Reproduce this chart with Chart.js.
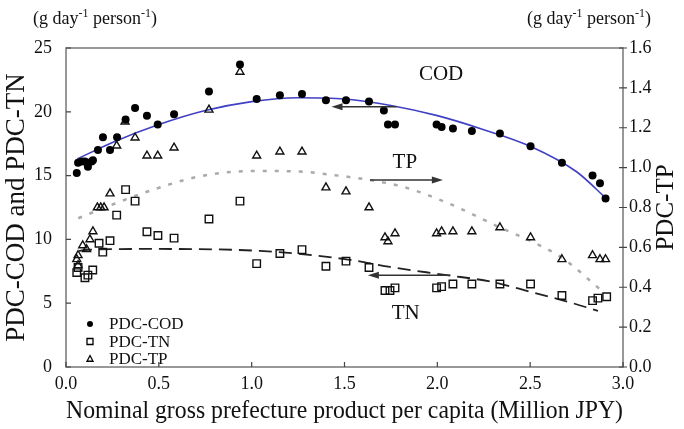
<!DOCTYPE html>
<html><head><meta charset="utf-8">
<script src="https://cdn.jsdelivr.net/npm/chart.js@4.4.1/dist/chart.umd.min.js"></script>
<style>html,body{margin:0;padding:0;background:#fff;}#wrap{width:684px;height:429px;}</style>
</head><body><div id="wrap"><canvas id="c" width="684" height="429"></canvas></div>
<script>
// ---- data ----
const codX = [0.058,0.065,0.085,0.102,0.118,0.138,0.145,0.172,0.199,0.237,0.275,0.321,0.372,0.436,0.494,0.582,0.77,0.937,1.027,1.152,1.271,1.40,1.508,1.632,1.712,1.734,1.772,1.996,2.023,2.084,2.186,2.337,2.502,2.671,2.836,2.876,2.906];
const codY = [15.2,16.0,16.1,16.1,15.7,16.1,16.2,17.0,18.0,17.0,18.0,19.4,20.3,19.7,19.0,19.8,21.6,23.7,21.0,21.3,21.4,20.9,20.9,20.8,20.1,19.0,19.0,19.0,18.8,18.7,18.5,18.3,17.3,16.0,15.0,14.4,13.2];
const tnX = [0.058,0.065,0.102,0.118,0.144,0.178,0.198,0.237,0.273,0.321,0.372,0.436,0.495,0.582,0.77,0.937,1.027,1.152,1.271,1.40,1.508,1.632,1.718,1.745,1.772,1.996,2.023,2.084,2.186,2.337,2.502,2.671,2.836,2.865,2.912];
const tnY = [7.4,7.8,7.0,7.2,7.6,9.7,9.0,9.9,11.9,13.9,13.0,10.6,10.3,10.1,11.6,13.0,8.1,8.9,9.2,7.9,8.3,7.8,6.0,6.0,6.2,6.2,6.3,6.5,6.5,6.5,6.5,5.6,5.2,5.4,5.5];
const tpX = [0.058,0.065,0.065,0.09,0.111,0.129,0.145,0.169,0.187,0.205,0.237,0.273,0.318,0.372,0.436,0.494,0.582,0.77,0.937,1.027,1.152,1.271,1.40,1.508,1.632,1.718,1.734,1.772,1.996,2.023,2.084,2.186,2.337,2.502,2.671,2.836,2.876,2.906];
const tpY = [0.54,0.51,0.56,0.61,0.59,0.64,0.68,0.80,0.80,0.80,0.87,1.11,1.23,1.15,1.06,1.06,1.10,1.29,1.48,1.06,1.08,1.08,0.90,0.88,0.80,0.65,0.63,0.67,0.67,0.68,0.68,0.68,0.70,0.65,0.54,0.56,0.54,0.54];
// fitted trend curves
const codFitX = [0.06,0.25,0.5,0.75,1.0,1.25,1.5,1.75,2.0,2.25,2.5,2.75,2.91];
const codFitY = [16.3,17.6,19.0,20.1,20.8,21.1,21.0,20.5,19.7,18.6,17.3,15.3,13.2];
const tpFitX = [0.066,0.264,0.44,0.71,1.0,1.26,1.44,1.62,1.815,2.057,2.337,2.508,2.676,2.891];
const tpFitY = [0.746,0.82,0.88,0.954,0.983,0.98,0.963,0.94,0.904,0.822,0.70,0.63,0.545,0.378];
const tnFitX = [0.07,0.102,0.45,1.045,1.53,1.745,2.05,2.283,2.5,2.73,2.865];
const tnFitY = [9.1,9.17,9.25,9.1,8.4,7.84,7.2,6.7,5.9,5.0,4.4];
// tick values
const xTicks = [0,0.5,1.0,1.5,2.0,2.5,3.0];
const leftTicks = [0,5,10,15,20,25];
const rightTicks = [0,0.2,0.4,0.6,0.8,1.0,1.2,1.4,1.6];
// annotations
const labelText = ['COD','TP','TN'];
const labelX = [2.02,1.825,1.83];
const labelY = [22.9,16.0,4.2];
const arrowFromX = [1.78,1.637,2.07];
const arrowToX = [1.43,2.03,1.626];
const arrowY = [20.4,14.65,7.2];
const legendNames = ['PDC-COD','PDC-TN','PDC-TP'];

const SERIF = "'Liberation Serif','Times New Roman',Times,serif";
const zip = (xs, ys) => xs.map((x, i) => ({x, y: ys[i]}));

function drawMarker(ctx, kind, x, y, s){
  ctx.beginPath();
  if (kind === 'circle'){ ctx.arc(x, y, s, 0, Math.PI*2); ctx.fillStyle='#000'; ctx.fill(); }
  else if (kind === 'rect'){ ctx.rect(x-s, y-s, 2*s, 2*s); ctx.stroke(); }
  else { ctx.moveTo(x, y-s*1.15); ctx.lineTo(x+s, y+s*0.75); ctx.lineTo(x-s, y+s*0.75); ctx.closePath(); ctx.stroke(); }
}
function drawUnits(ctx, x, y){
  const parts = [['(g day',0],['-1',1],[' person',0],['-1',1],[')',0]];
  let cx = x;
  ctx.fillStyle = '#111'; ctx.textAlign='left'; ctx.textBaseline='alphabetic';
  parts.forEach(([t,s]) => {
    ctx.font = (s ? '12px ' : '18px ') + SERIF;
    ctx.fillText(t, cx, s ? y-7 : y);
    cx += ctx.measureText(t).width;
  });
}

const deco = {
  id: 'deco',
  beforeDatasetsDraw(chart){
    const {ctx, chartArea: a, scales} = chart;
    ctx.save();
    ctx.strokeStyle = '#777'; ctx.lineWidth = 1.5;
    ctx.strokeRect(a.left, a.top, a.right-a.left, a.bottom-a.top);
    ctx.strokeStyle = '#444'; ctx.lineWidth = 1.2;
    ctx.beginPath();
    leftTicks.forEach(v => { const y = scales.y.getPixelForValue(v); ctx.moveTo(a.left, y); ctx.lineTo(a.left+5, y); });
    rightTicks.forEach(v => { const y = scales.y1.getPixelForValue(v); ctx.moveTo(a.right-4, y); ctx.lineTo(a.right+4, y); });
    xTicks.forEach(v => { const x = scales.x.getPixelForValue(v); ctx.moveTo(x, a.bottom); ctx.lineTo(x, a.bottom-5); });
    ctx.stroke();
    ctx.restore();
  },
  afterDatasetsDraw(chart){
    const {ctx, chartArea: a, scales} = chart;
    const sx = scales.x, sy = scales.y;
    ctx.save();
    // arrows
    ctx.strokeStyle = '#333'; ctx.fillStyle = '#333'; ctx.lineWidth = 1.5;
    arrowY.forEach((v, i) => {
      const y = sy.getPixelForValue(v);
      const x1 = sx.getPixelForValue(arrowFromX[i]), x2 = sx.getPixelForValue(arrowToX[i]);
      const dir = Math.sign(x2 - x1);
      ctx.beginPath(); ctx.moveTo(x1, y); ctx.lineTo(x2 - dir*8, y); ctx.stroke();
      ctx.beginPath(); ctx.moveTo(x2, y); ctx.lineTo(x2 - dir*11, y-3.5); ctx.lineTo(x2 - dir*11, y+3.5); ctx.closePath(); ctx.fill();
    });
    // curve labels
    ctx.fillStyle = '#111'; ctx.font = '21px ' + SERIF; ctx.textAlign = 'center'; ctx.textBaseline = 'middle';
    labelText.forEach((t, i) => ctx.fillText(t, sx.getPixelForValue(labelX[i]), sy.getPixelForValue(labelY[i])));
    // legend
    const kinds = ['circle','rect','tri'];
    ctx.strokeStyle = '#000'; ctx.lineWidth = 1.3;
    legendNames.forEach((n, i) => {
      const y = a.bottom - 43 + i*17.5;
      drawMarker(ctx, kinds[i], a.left + 24, y, 3);
      ctx.fillStyle = '#111'; ctx.font = '17px ' + SERIF; ctx.textAlign = 'left'; ctx.textBaseline = 'middle';
      ctx.fillText(n, a.left + 43, y + 1);
    });
    // units
    drawUnits(ctx, 33, 24);
    drawUnits(ctx, 527, 24);
    // right axis title
    ctx.save();
    ctx.translate(666, (a.top + a.bottom)/2);
    ctx.rotate(-Math.PI/2);
    ctx.fillStyle = '#111'; ctx.font = '25px ' + SERIF; ctx.textAlign = 'center'; ctx.textBaseline = 'middle';
    ctx.fillText('PDC-TP', 0, 0);
    ctx.restore();
    ctx.restore();
  }
};

const tickFont = {family: SERIF, size: 18};
new Chart(document.getElementById('c'), {
  type: 'scatter',
  data: { datasets: [
    {label: 'PDC-COD', data: zip(codX, codY), yAxisID: 'y', pointStyle: 'circle', pointRadius: 4, backgroundColor: '#000', borderColor: '#000', borderWidth: 0},
    {label: 'PDC-TN', data: zip(tnX, tnY), yAxisID: 'y', pointStyle: 'rect', pointRadius: 5.3, backgroundColor: 'rgba(0,0,0,0)', borderColor: '#111', borderWidth: 1.4},
    {label: 'PDC-TP', data: zip(tpX, tpY), yAxisID: 'y1', pointStyle: 'triangle', pointRadius: 4.6, backgroundColor: 'rgba(0,0,0,0)', borderColor: '#111', borderWidth: 1.4},
    {label: 'COD fit', data: zip(codFitX, codFitY), yAxisID: 'y', showLine: true, pointRadius: 0, borderColor: '#4040c4', borderWidth: 1.6, cubicInterpolationMode: 'monotone'},
    {label: 'TP fit', data: zip(tpFitX, tpFitY), yAxisID: 'y1', showLine: true, pointRadius: 0, borderColor: '#aaaaaa', borderWidth: 2.5, borderDash: [4, 8], cubicInterpolationMode: 'monotone'},
    {label: 'TN fit', data: zip(tnFitX, tnFitY), yAxisID: 'y', showLine: true, pointRadius: 0, borderColor: '#222', borderWidth: 1.8, borderDash: [13, 7], cubicInterpolationMode: 'monotone'}
  ]},
  options: {
    responsive: false, animation: false, devicePixelRatio: 1,
    layout: {padding: {top: 48, left: 0, right: 0, bottom: 0}},
    plugins: {legend: {display: false}, tooltip: {enabled: false}},
    scales: {
      x: {
        type: 'linear', min: 0, max: 3,
        afterBuildTicks: s => { s.ticks = xTicks.map(v => ({value: v})); },
        afterFit: s => { s.height = 62; },
        grid: {display: false, drawTicks: false}, border: {display: false},
        ticks: {font: tickFont, color: '#111', padding: 6, maxRotation: 0, callback: v => v.toFixed(1)},
        title: {display: true, text: 'Nominal gross prefecture product per capita (Million JPY)', font: {family: SERIF, size: 26}, color: '#111', padding: {top: 0, bottom: 2}}
      },
      y: {
        type: 'linear', position: 'left', min: 0, max: 25,
        afterBuildTicks: s => { s.ticks = leftTicks.map(v => ({value: v})); },
        afterFit: s => { s.width = 66; },
        grid: {display: false, drawTicks: false}, border: {display: false},
        ticks: {font: tickFont, color: '#111', padding: 14},
        title: {display: true, text: 'PDC-COD and PDC-TN', font: {family: SERIF, size: 27}, color: '#111', padding: {top: 1, bottom: 0}}
      },
      y1: {
        type: 'linear', position: 'right', min: 0, max: 1.6,
        afterBuildTicks: s => { s.ticks = rightTicks.map(v => ({value: v})); },
        afterFit: s => { s.width = 61; },
        grid: {display: false, drawTicks: false}, border: {display: false},
        ticks: {font: tickFont, color: '#111', padding: 6, callback: v => v.toFixed(1)}
      }
    }
  },
  plugins: [deco]
});
</script></body></html>
